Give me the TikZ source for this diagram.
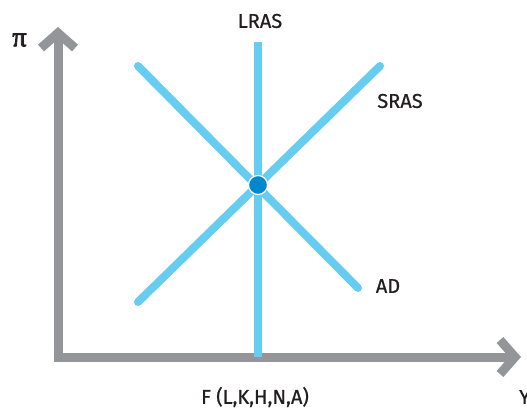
\documentclass[tikz,border=0pt]{standalone}
\usepackage{fontspec}
\setmainfont{Fira Sans}[FakeBold=0.6]
\newfontfamily\pifont{Liberation Serif}[FakeBold=3]
\usetikzlibrary{arrows.meta}
\definecolor{axisgray}{HTML}{939598}
\definecolor{curveblue}{HTML}{66CCF0}
\definecolor{dotblue}{HTML}{0088CC}
\definecolor{txt}{HTML}{231F20}
\begin{document}
\begin{tikzpicture}[x=1pt,y=-1pt,
  axisline/.style={draw=axisgray,line width=9pt,-{Straight Barb[length=15pt,width=34pt,line width=9pt]}},
  curve/.style={draw=curveblue,line width=8pt,line cap=round},
  lbl/.style={font=\fontsize{20}{22}\selectfont,text=txt,inner sep=0pt}]
\useasboundingbox (0,0) rectangle (527,408);
\coordinate (O) at (58,357);
\coordinate (Ytop) at (58,27);
\coordinate (Xend) at (521,357);
\draw[axisline] (O) -- (Ytop);
\draw[axisline,line cap=butt] ([xshift=-4.5pt]O) -- (Xend);
\coordinate (lrasT) at (258,42);
\coordinate (lrasB) at (258,357);
\coordinate (srasB) at (138,302);
\coordinate (srasT) at (380,66);
\coordinate (adT) at (138,66);
\coordinate (adB) at (358,288);
\draw[curve,line cap=butt] (lrasB) -- (lrasT);
\draw[curve] (srasB) -- (srasT);
\draw[curve] (adT) -- (adB);
\node[circle,fill=dotblue,draw=white,line width=1.2pt,minimum size=19pt,inner sep=0pt] (eq) at (258,185) {};
\node[lbl] (lras) at (260,21) {LRAS};
\node[lbl] (sras) at (400,101) {SRAS};
\node[lbl] (ad) at (388,286) {AD};
\node[inner sep=0pt,font=\pifont\fontsize{28}{30}\selectfont,text=txt] (pi) at (19.5,40) {π};
\node[lbl] (f) at (255,397) {F (L,K,H,N,A)};
\node[lbl,anchor=west] (y) at (519,397) {Y};
\end{tikzpicture}
\end{document}
